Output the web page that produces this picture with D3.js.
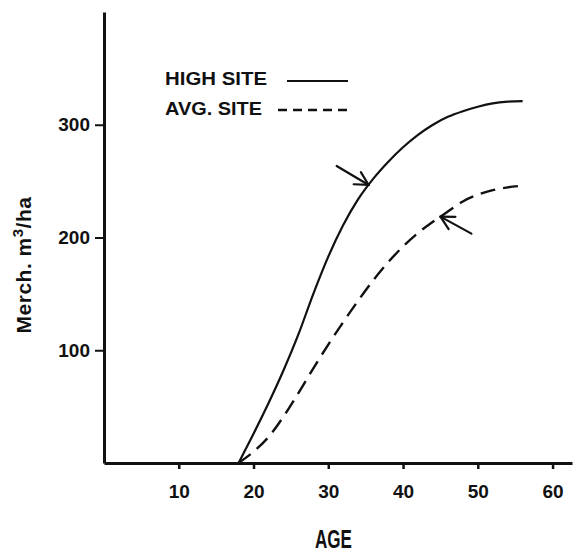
<!DOCTYPE html>
<html>
<head>
<meta charset="utf-8">
<script src="https://cdn.jsdelivr.net/npm/d3@7"></script>
<style>
  html, body { margin: 0; padding: 0; background: #fff; }
  svg { display: block; }
  text { font-family: "Liberation Sans", Arial, sans-serif; font-weight: bold; fill: #111; }
</style>
</head>
<body>
<svg id="chart" width="574" height="554"></svg>
<script>
// Merchantable volume (m3/ha) by stand age for two site classes
const ages      = [18, 20, 22, 24, 26, 28, 30, 32, 34, 36, 38, 40, 42, 44, 46, 48, 50, 52, 54, 56];
const highSite  = [0, 26, 53, 82, 114, 150, 183, 211, 234, 252, 267, 280, 291, 300, 307, 312, 316, 319, 320.5, 321];
const avgSite   = [0, 10, 23, 41, 62, 84, 105, 125, 144, 162, 178, 192, 204, 214, 223, 232, 238, 242, 244.5, 246];
const seriesNames = ["HIGH SITE", "AVG. SITE"];
const xTicks = [10, 20, 30, 40, 50, 60];
const yTicks = [100, 200, 300];
// ages at which each curve is pointed out by an arrow
const arrowAges = [35.4, 45];

const svg = d3.select("#chart");
const ink = "#111";

const x = d3.scaleLinear().domain([0, 62.6]).range([104, 572]);
const y = d3.scaleLinear().domain([0, 400]).range([463, 12]);

// axes
const yAxis = d3.axisLeft(y).tickValues(yTicks).tickFormat(d3.format("d"))
  .tickSize(9).tickSizeOuter(0).tickPadding(5);
const xAxis = d3.axisBottom(x).tickValues(xTicks).tickFormat(d3.format("d"))
  .tickSize(6).tickSizeOuter(0).tickPadding(16);

const gy = svg.append("g").attr("transform", `translate(${x(0)},0)`).call(yAxis);
gy.select(".domain").attr("stroke", ink).attr("stroke-width", 3);
gy.selectAll(".tick line").attr("stroke", ink).attr("stroke-width", 2);
gy.selectAll(".tick text").attr("font-size", 19).attr("fill", ink);

const gx = svg.append("g").attr("transform", `translate(0,${y(0)})`).call(xAxis);
gx.select(".domain").attr("stroke", ink).attr("stroke-width", 3);
gx.selectAll(".tick line").attr("stroke", ink).attr("stroke-width", 2.5);
gx.selectAll(".tick text").attr("font-size", 19).attr("fill", ink);
svg.selectAll(".domain").attr("fill", "none");
svg.selectAll("g").attr("font-family", null).attr("font-size", null);

// axis titles
svg.append("text")
  .attr("x", 315).attr("y", 548)
  .attr("font-size", 26)
  .attr("textLength", 37).attr("lengthAdjust", "spacingAndGlyphs")
  .text("AGE");

const yTitle = svg.append("text")
  .attr("transform", "translate(31,265) rotate(-90)")
  .attr("text-anchor", "middle")
  .attr("font-size", 21)
  .attr("letter-spacing", 0.5);
yTitle.append("tspan").text("Merch. m");
yTitle.append("tspan").attr("dy", -8).attr("font-size", 15).text("3");
yTitle.append("tspan").attr("dy", 8).text("/ha");

// curves
const line = d3.line()
  .x((d, i) => x(ages[i]))
  .y(d => y(d))
  .curve(d3.curveMonotoneX);

svg.append("path")
  .datum(highSite)
  .attr("d", line)
  .attr("fill", "none").attr("stroke", ink).attr("stroke-width", 2.2);

svg.append("path")
  .datum(avgSite)
  .attr("d", line)
  .attr("fill", "none").attr("stroke", ink).attr("stroke-width", 2.4)
  .attr("stroke-dasharray", "15,8");

// legend
const legend = svg.append("g");
legend.append("text").attr("x", 165).attr("y", 85)
  .attr("font-size", 18).attr("textLength", 102).attr("lengthAdjust", "spacingAndGlyphs")
  .text(seriesNames[0]);
legend.append("line").attr("x1", 287).attr("x2", 348).attr("y1", 81).attr("y2", 81)
  .attr("stroke", ink).attr("stroke-width", 2);
legend.append("text").attr("x", 165).attr("y", 115)
  .attr("font-size", 18).attr("textLength", 97).attr("lengthAdjust", "spacingAndGlyphs")
  .text(seriesNames[1]);
legend.append("line").attr("x1", 278).attr("x2", 352).attr("y1", 110).attr("y2", 110)
  .attr("stroke", ink).attr("stroke-width", 2.4).attr("stroke-dasharray", "9,6");

// arrows pointing at each curve
function valueAt(series, age) {
  return d3.scaleLinear().domain(ages).range(series)(age);
}
const arrowTails = [[-32, -19], [31, 17]];
[highSite, avgSite].forEach((series, k) => {
  const tx = x(arrowAges[k]);
  const ty = y(valueAt(series, arrowAges[k]));
  const [ox, oy] = arrowTails[k];
  const back = Math.atan2(oy, ox);
  const barb = 15, spread = 28 * Math.PI / 180;
  const g = svg.append("g").attr("stroke", ink).attr("stroke-width", 2.2)
    .attr("stroke-linecap", "round").attr("fill", "none");
  g.append("line").attr("x1", tx + ox).attr("y1", ty + oy).attr("x2", tx).attr("y2", ty);
  [-spread, spread].forEach(s => {
    g.append("line")
      .attr("x1", tx).attr("y1", ty)
      .attr("x2", tx + barb * Math.cos(back + s))
      .attr("y2", ty + barb * Math.sin(back + s));
  });
});
</script>
</body>
</html>
